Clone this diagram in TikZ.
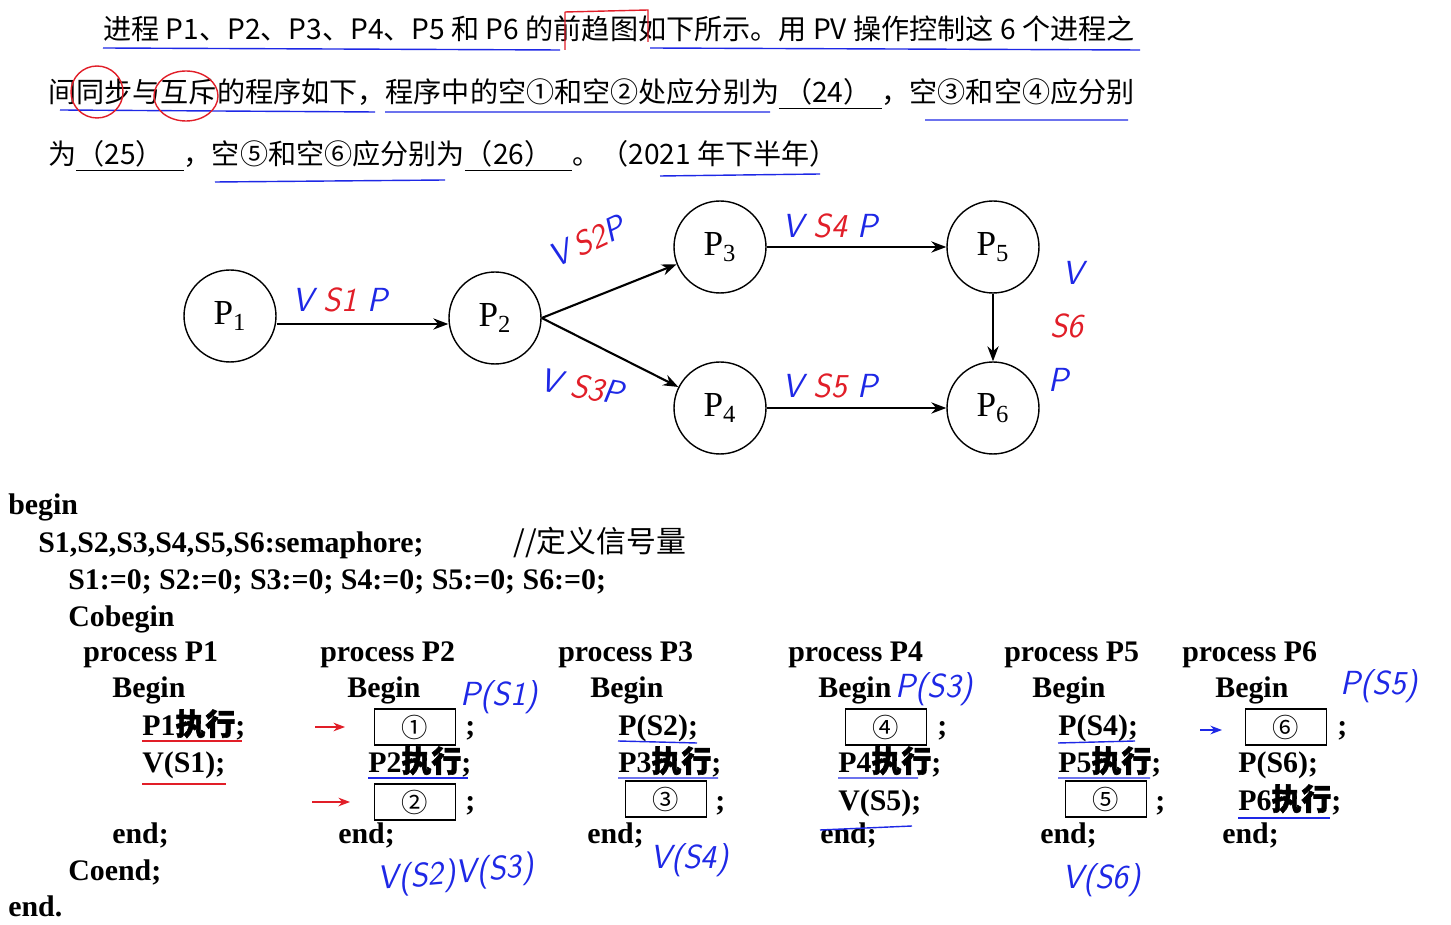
\documentclass[tikz,border=0pt]{standalone}
\usepackage{fontspec}
\setmainfont{Liberation Serif}
\newfontfamily\cjk{Noto Sans CJK SC}
\newfontfamily\cjkb{Noto Sans CJK SC}[FakeBold=2]
\usetikzlibrary{arrows.meta}
\tikzset{>=Stealth}
\definecolor{pen}{RGB}{30,40,230}
\definecolor{redpen}{RGB}{225,30,40}
\begin{document}
\begin{tikzpicture}[x=0.02cm,y=-0.02cm,
    proc/.style={circle,draw,thick,minimum size=1.84cm,font=\fontsize{20}{20}\selectfont},
    edge/.style={-{Stealth[length=3mm]},very thick},
    txt/.style={anchor=base west,inner sep=0pt,font=\cjk\fontsize{16}{18}\selectfont},
    code/.style={anchor=base west,inner sep=0pt,font=\bfseries\fontsize{17}{18}\selectfont},
    blank/.style={draw,thick,minimum width=1.62cm,minimum height=0.72cm,inner sep=0pt,font=\cjk\fontsize{15}{15}\selectfont},
    hand/.style={anchor=base west,inner sep=0pt,font=\sffamily\itshape\fontsize{19}{19}\selectfont,pen},
    ul/.style={pen,thick},
    rl/.style={redpen,thick}]
\useasboundingbox (0,0) rectangle (1451,925);
\fill[white] (0,0) rectangle (1451,925);

% question
\node[txt] (q1) at (103,40) {进程 P1、P2、P3、P4、P5 和 P6 的前趋图如下所示。用 PV 操作控制这 6 个进程之};
\node[txt] (q2) at (48,103) {间同步与互斥的程序如下，程序中的空①和空②处应分别为\underline{\hspace{0.1cm}（24）\hspace{0.2cm}}，空③和空④应分别};
\node[txt] (q3) at (48,165) {为\underline{（25）\hspace{0.4cm}}，空⑤和空⑥应分别为\underline{（26）\hspace{0.4cm}}。（2021 年下半年）};
\draw[ul] (103,48) -- (560,50) (650,48) -- (1140,50);
\draw[ul] (60,110) -- (375,112) (385,112) -- (770,112) (925,120) -- (1128,120);
\draw[ul] (215,182) -- (445,180) (660,176) -- (820,174);
\draw[rl] (97,92) ellipse (26 and 26) (186,96) ellipse (32 and 25);
\draw[rl] (565,12) -- (565,50) (565,12) -- (648,10) -- (648,42);

% precedence graph
\node[proc] (p1) at (230,316) {P\textsubscript{1}};
\node[proc] (p2) at (495,318) {P\textsubscript{2}};
\node[proc] (p3) at (720,247) {P\textsubscript{3}};
\node[proc] (p4) at (720,408) {P\textsubscript{4}};
\node[proc] (p5) at (993,247) {P\textsubscript{5}};
\node[proc] (p6) at (993,408) {P\textsubscript{6}};
\draw[edge] (p1.east |- 0,324) -- (p2.west |- 0,324);
\draw[edge] (p2.east) -- (p3);
\draw[edge] (p2.east) -- (p4);
\draw[edge] (p3) -- (p5);
\draw[edge] (p4) -- (p6);
\draw[edge] (p5) -- (p6);

\node[hand] (l1) at (292,312) {V \textcolor{redpen}{S1} P};
\node[hand,rotate=25,anchor=base] (l2) at (592,252) {V\,\textcolor{redpen}{S2}P};
\node[hand,rotate=-10,anchor=base] (l3) at (580,398) {V \textcolor{redpen}{S3}P};
\node[hand] (l4) at (782,238) {V \textcolor{redpen}{S4} P};
\node[hand] (l5) at (782,398) {V \textcolor{redpen}{S5} P};
\node[hand] (l6a) at (1062,285) {V};
\node[hand,redpen] (l6b) at (1050,338) {S6};
\node[hand] (l6c) at (1048,392) {P};

% program
\node[code] (c0) at (8,515) {begin};
\node[code] (c1) at (38,553) {S1,S2,S3,S4,S5,S6:semaphore;};
\node[code,font=\cjk\fontsize{17}{18}\selectfont] (c1b) at (513,553) {//定义信号量};
\node[code] (c2) at (68,590) {S1:=0; S2:=0; S3:=0; S4:=0; S5:=0; S6:=0;};
\node[code] (c3) at (68,627) {Cobegin};
\node[code] (c4) at (68,880) {Coend;};
\node[code] (c5) at (8,916) {end.};

% P1
\node[code] at (83,662) {process P1};
\node[code] at (112,698) {Begin};
\node[code] at (142,735) {P1{\cjkb 执行};};
\node[code] at (142,772) {V(S1);};
\node[code] at (112,843) {end;};
\draw[rl] (142,741) -- (242,741) (142,784) -- (226,784);
% P2
\node[code] at (320,662) {process P2};
\node[code] at (347,698) {Begin};
\node[blank] (b1) at (415,727) {①};
\node[code] at (465,735) {;};
\node[code] at (368,772) {P2{\cjkb 执行};};
\node[blank] (b2) at (415,802) {②};
\node[code] at (465,810) {;};
\node[code] at (338,843) {end;};
\draw[rl,->] (315,727) -- (345,727);
\draw[rl,->] (312,802) -- (350,802);
\draw[ul] (368,778) -- (468,778);
\node[hand] at (460,705) {P(S1)};
\node[hand,rotate=5] at (378,890) {V(S2)V(S3)};
% P3
\node[code] at (558,662) {process P3};
\node[code] at (590,698) {Begin};
\node[code] at (618,735) {P(S2);};
\node[code] at (618,772) {P3{\cjkb 执行};};
\node[blank] (b3) at (666,799) {③};
\node[code] at (715,810) {;};
\node[code] at (587,843) {end;};
\draw[ul] (618,741) -- (697,743) (618,778) -- (718,778);
\node[hand] at (650,868) {V(S4)};
% P4
\node[code] at (788,662) {process P4};
\node[code] at (818,698) {Begin};
\node[blank] (b4) at (886,727) {④};
\node[code] at (937,735) {;};
\node[code] at (838,772) {P4{\cjkb 执行};};
\node[code] at (838,810) {V(S5);};
\node[code] at (820,843) {end;};
\draw[ul] (838,778) -- (918,778) (820,830) -- (912,826);
\node[hand] at (895,698) {P(S3)};
% P5
\node[code] at (1004,662) {process P5};
\node[code] at (1032,698) {Begin};
\node[code] at (1058,735) {P(S4);};
\node[code] at (1058,772) {P5{\cjkb 执行};};
\node[blank] (b5) at (1106,799) {⑤};
\node[code] at (1155,810) {;};
\node[code] at (1040,843) {end;};
\draw[ul] (1058,743) -- (1135,741) (1058,778) -- (1150,778);
\node[hand] at (1062,888) {V(S6)};
% P6
\node[code] at (1182,662) {process P6};
\node[code] at (1215,698) {Begin};
\node[blank] (b6) at (1286,727) {⑥};
\node[code] at (1337,735) {;};
\node[code] at (1238,772) {P(S6);};
\node[code] at (1238,810) {P6{\cjkb 执行};};
\node[code] at (1222,843) {end;};
\draw[ul,->] (1200,730) -- (1222,730);
\draw[ul] (1238,818) -- (1330,818);
\node[hand] at (1340,695) {P(S5)};
\end{tikzpicture}
\end{document}
